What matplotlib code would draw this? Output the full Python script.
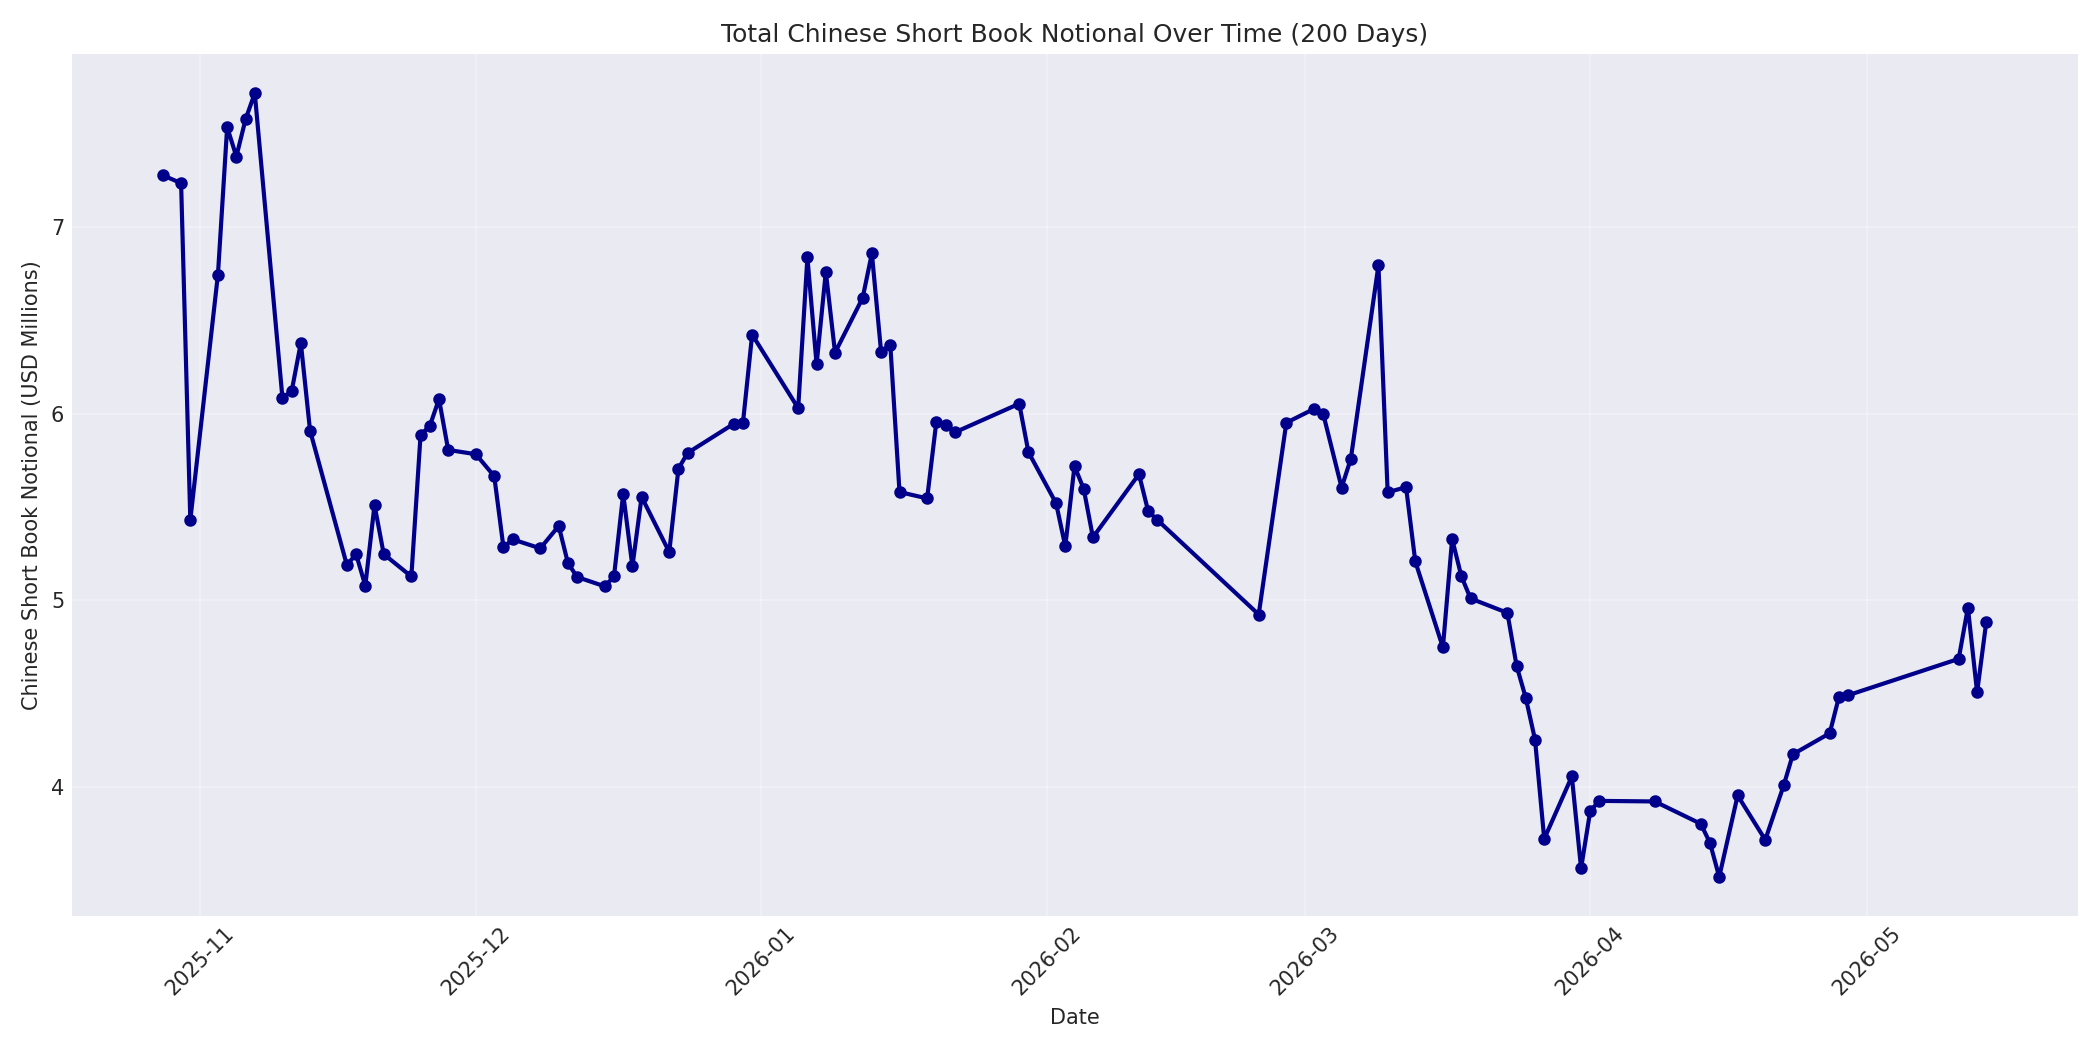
import pandas as pd
import matplotlib
matplotlib.use('Agg')
import matplotlib.pyplot as plt
import matplotlib.dates as mdates

# Datas e valores (USD milhões)
datas = [
    '2025-10-28', '2025-10-30', '2025-10-31', '2025-11-03', '2025-11-04', '2025-11-05',
    '2025-11-06', '2025-11-07', '2025-11-10', '2025-11-11', '2025-11-12', '2025-11-13',
    '2025-11-17', '2025-11-18', '2025-11-19', '2025-11-20', '2025-11-21', '2025-11-24',
    '2025-11-25', '2025-11-26', '2025-11-27', '2025-11-28', '2025-12-01', '2025-12-03',
    '2025-12-04', '2025-12-05', '2025-12-08', '2025-12-10', '2025-12-11', '2025-12-12',
    '2025-12-15', '2025-12-16', '2025-12-17', '2025-12-18', '2025-12-19', '2025-12-22',
    '2025-12-23', '2025-12-24', '2025-12-29', '2025-12-30', '2025-12-31', '2026-01-05',
    '2026-01-06', '2026-01-07', '2026-01-08', '2026-01-09', '2026-01-12', '2026-01-13',
    '2026-01-14', '2026-01-15', '2026-01-16', '2026-01-19', '2026-01-20', '2026-01-21',
    '2026-01-22', '2026-01-29', '2026-01-30', '2026-02-02', '2026-02-03', '2026-02-04',
    '2026-02-05', '2026-02-06', '2026-02-11', '2026-02-12', '2026-02-13', '2026-02-24',
    '2026-02-27', '2026-03-02', '2026-03-03', '2026-03-05', '2026-03-06', '2026-03-09',
    '2026-03-10', '2026-03-12', '2026-03-13', '2026-03-16', '2026-03-17', '2026-03-18',
    '2026-03-19', '2026-03-23', '2026-03-24', '2026-03-25', '2026-03-26', '2026-03-27',
    '2026-03-30', '2026-03-31', '2026-04-01', '2026-04-02', '2026-04-08', '2026-04-13',
    '2026-04-14', '2026-04-15', '2026-04-17', '2026-04-20', '2026-04-22', '2026-04-23',
    '2026-04-27', '2026-04-28', '2026-04-29', '2026-05-11', '2026-05-12', '2026-05-13',
    '2026-05-14',
]

notional = [
    7.28, 7.237, 5.43, 6.747, 7.538, 7.38,
    7.58, 7.72, 6.086, 6.12, 6.38, 5.91,
    5.188, 5.247, 5.077, 5.511, 5.247, 5.127,
    5.887, 5.934, 6.079, 5.806, 5.783, 5.665,
    5.283, 5.326, 5.278, 5.398, 5.199, 5.124,
    5.074, 5.127, 5.57, 5.181, 5.554, 5.258,
    5.706, 5.79, 5.946, 5.95, 6.425, 6.03,
    6.839, 6.265, 6.762, 6.328, 6.622, 6.86,
    6.333, 6.371, 5.58, 5.546, 5.957, 5.94,
    5.90, 6.054, 5.794, 5.52, 5.289, 5.719,
    5.597, 5.337, 5.676, 5.477, 5.43, 4.923,
    5.952, 6.026, 6.0, 5.604, 5.758, 6.796,
    5.579, 5.606, 5.208, 4.746, 5.328, 5.129,
    5.009, 4.932, 4.648, 4.475, 4.252, 3.719,
    4.054, 3.561, 3.87, 3.923, 3.92, 3.80,
    3.697, 3.515, 3.952, 3.714, 4.006, 4.173,
    4.286, 4.481, 4.49, 4.685, 4.96, 4.505,
    4.885,
]

datas = pd.to_datetime(datas)

plt.style.use('seaborn-v0_8-darkgrid')
plt.rcParams['font.family'] = ['DejaVu Sans']
fig, ax = plt.subplots(figsize=(14, 7), dpi=150)

ax.plot(datas, notional, marker='o', markersize=5, linewidth=2, color='darkblue')

ax.set_title('Total Chinese Short Book Notional Over Time (200 Days)', fontsize=12)
ax.set_xlabel('Date')
ax.set_ylabel('Chinese Short Book Notional (USD Millions)')
ax.grid(True, alpha=0.3)

ax.xaxis.set_major_locator(mdates.MonthLocator())
ax.xaxis.set_major_formatter(mdates.DateFormatter('%Y-%m'))
plt.xticks(rotation=45)

plt.tight_layout()
plt.savefig('out.png', dpi=150)
